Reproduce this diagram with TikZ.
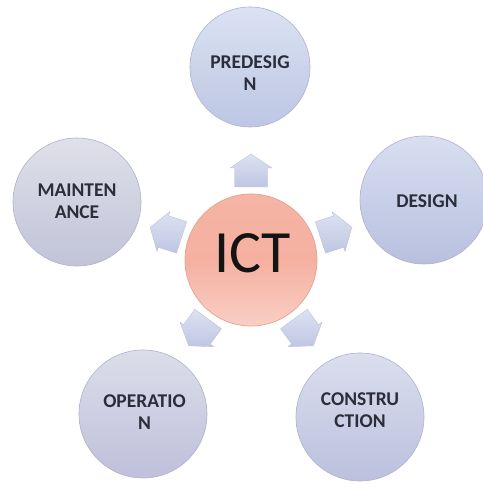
\documentclass[tikz,border=0pt]{standalone}
\usepackage{fontspec}
\setmainfont{Carlito}
\definecolor{labelgray}{HTML}{2B2D3A}
\definecolor{hubline}{HTML}{E2A393}
\definecolor{hubtop}{HTML}{F5B4A5}
\definecolor{hubmid}{HTML}{F5B0A0}
\definecolor{hubbot}{HTML}{F9CFC4}
\definecolor{arrowline}{HTML}{BCC2DA}
\definecolor{arrowtop}{HTML}{DCE2F2}
\definecolor{arrowbot}{HTML}{BFC6E2}
\definecolor{ringline}{HTML}{AEB2CB}
\definecolor{pretop}{HTML}{DBE2F3}
\definecolor{prebot}{HTML}{BDC6E3}
\definecolor{destop}{HTML}{D8DFF1}
\definecolor{desbot}{HTML}{B8C0DF}
\definecolor{maitop}{HTML}{DFE0E9}
\definecolor{maibot}{HTML}{C1C3D8}
\definecolor{opetop}{HTML}{DCDDEA}
\definecolor{opebot}{HTML}{BFC0DA}
\definecolor{contop}{HTML}{DADEEE}
\definecolor{conbot}{HTML}{BBC1DE}
\begin{document}
\begin{tikzpicture}[x=1pt,y=1pt,
  phase/.style={circle, inner sep=0pt, draw=ringline, line width=0.6pt,
    minimum size=128pt},
  phasetext/.style={align=center, text=labelgray,
    font=\fontsize{19.5}{22}\selectfont\bfseries, inner sep=0pt},
  hub/.style={circle, inner sep=0pt, draw=hubline, line width=0.7pt,
    top color=hubtop, bottom color=hubbot, middle color=hubmid, minimum size=132pt},
  blockarrow/.style={draw=arrowline, line width=0.4pt, top color=arrowtop,
    bottom color=arrowbot, line join=round}
]
\useasboundingbox (0,0) rectangle (482,484);

% central hub
\node[hub] (ict) at (251,224) {};
\node[font=\fontsize{60}{60}\selectfont, text=black!92, inner sep=0pt] (ict-t) at (252.5,231) {ICT};

% outer phases
\node[phase, minimum size=120pt, top color=pretop, bottom color=prebot] (pre) at (250,417) {};
\node[phase, top color=destop, bottom color=desbot] (des) at (424,284) {};
\node[phase, top color=contop, bottom color=conbot] (con) at (360,67) {};
\node[phase, top color=opetop, bottom color=opebot] (ope) at (143,70) {};
\node[phase, top color=maitop, bottom color=maibot] (mai) at (77,282) {};

\node[phasetext] (pre-t) at (250,410.5) {PREDESIG\\N};
\node[phasetext] (des-t) at (427,282.5) {DESIGN};
\node[phasetext] (con-t) at (360,73.5) {CONSTRU\\CTION};
\node[phasetext] (ope-t) at (144.5,71.5) {OPERATIO\\N};
\node[phasetext] (mai-t) at (77,282.5) {MAINTEN\\ANCE};

% block arrows radiating from the hub
\foreach \ang in {90,18,-54,-126,162} {
  \begin{scope}[shift={(ict.center)}, rotate=\ang, xshift=89pt]
    \path[blockarrow] (-16,-16.5) -- (3,-16.5) -- (3,-21) -- (17,0)
      -- (3,21) -- (3,16.5) -- (-16,16.5) -- cycle;
  \end{scope}
}
\end{tikzpicture}
\end{document}
